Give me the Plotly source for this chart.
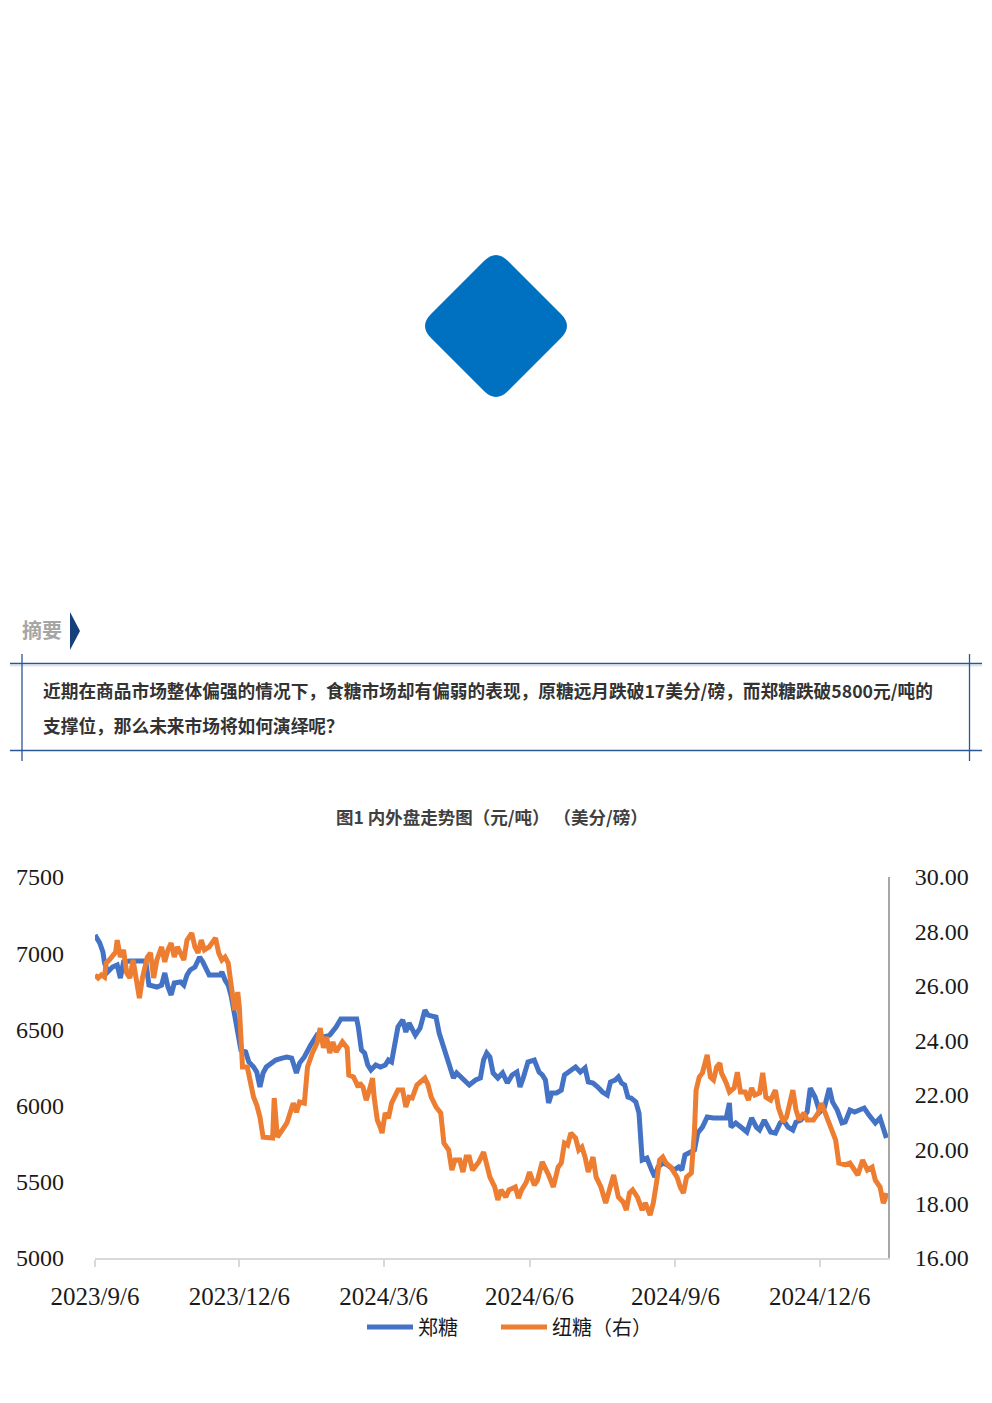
import plotly.graph_objects as go

PAGE_W, PAGE_H = 992, 1403
OFF = 8  # default page body margin
W, H = PAGE_W - OFF, PAGE_H - OFF

# ---------------- data ----------------
zheng_dates = [
    "2023-09-06","2023-09-09","2023-09-11","2023-09-12","2023-09-14","2023-09-17","2023-09-20","2023-09-22","2023-09-24","2023-09-28",
    "2023-10-08","2023-10-10","2023-10-15","2023-10-18","2023-10-20","2023-10-22","2023-10-24","2023-10-26","2023-10-30",
    "2023-11-01","2023-11-03","2023-11-05","2023-11-08","2023-11-11","2023-11-13","2023-11-15","2023-11-17","2023-11-24","2023-11-25","2023-11-27","2023-11-29",
    "2023-12-01","2023-12-03","2023-12-05","2023-12-07","2023-12-10","2023-12-12","2023-12-15","2023-12-17","2023-12-19","2023-12-21","2023-12-23","2023-12-26","2023-12-29",
    "2024-01-02","2024-01-05","2024-01-08","2024-01-11","2024-01-13","2024-01-16","2024-01-20","2024-01-24","2024-01-28",
    "2024-02-01","2024-02-05","2024-02-08","2024-02-18","2024-02-19","2024-02-21","2024-02-23","2024-02-25","2024-02-27",
    "2024-03-01","2024-03-04","2024-03-07","2024-03-09","2024-03-11","2024-03-13","2024-03-15","2024-03-18","2024-03-20","2024-03-22","2024-03-26","2024-03-29",
    "2024-04-01","2024-04-03","2024-04-08","2024-04-10","2024-04-12","2024-04-14","2024-04-16","2024-04-19","2024-04-21","2024-04-24","2024-04-27","2024-04-29",
    "2024-05-03","2024-05-06","2024-05-08","2024-05-10","2024-05-12","2024-05-14","2024-05-17","2024-05-20","2024-05-23","2024-05-26","2024-05-29","2024-05-31",
    "2024-06-02","2024-06-05","2024-06-09","2024-06-12","2024-06-14","2024-06-16","2024-06-18","2024-06-20","2024-06-23","2024-06-26","2024-06-28",
    "2024-07-01","2024-07-05","2024-07-08","2024-07-11","2024-07-13","2024-07-16","2024-07-19","2024-07-22","2024-07-25","2024-07-27","2024-07-30",
    "2024-08-01","2024-08-03","2024-08-05","2024-08-07","2024-08-09","2024-08-12","2024-08-14","2024-08-16","2024-08-19","2024-08-22","2024-08-24","2024-08-26","2024-08-29",
    "2024-09-01","2024-09-05","2024-09-08","2024-09-10","2024-09-12","2024-09-15","2024-09-18","2024-09-20","2024-09-23","2024-09-26","2024-09-30",
    "2024-10-08","2024-10-10","2024-10-11","2024-10-14","2024-10-18","2024-10-21","2024-10-24","2024-10-27","2024-10-29",
    "2024-11-01","2024-11-05","2024-11-08","2024-11-11","2024-11-13","2024-11-16","2024-11-19","2024-11-21","2024-11-24","2024-11-28","2024-11-30",
    "2024-12-03","2024-12-06","2024-12-09","2024-12-12","2024-12-14","2024-12-17","2024-12-20","2024-12-22","2024-12-25","2024-12-28","2024-12-31",
    "2025-01-03","2025-01-06","2025-01-10","2025-01-13","2025-01-15","2025-01-17",
]
zheng_values = [
    7119,7067,7008,6936,6877,6909,6923,6837,6942,6949,
    6949,6791,6778,6791,6870,6778,6726,6804,6811,
    6791,6857,6890,6909,6975,6942,6903,6857,6857,6877,6824,6791,
    6713,6581,6496,6365,6352,6286,6253,6220,6122,6214,6253,6279,6299,
    6312,6319,6312,6214,6279,6319,6398,6463,6450,
    6463,6516,6568,6568,6516,6365,6345,6266,6234,
    6266,6253,6266,6299,6286,6411,6516,6562,6483,6542,6463,6509,
    6627,6594,6581,6476,6411,6332,6279,6181,6214,6181,6148,6135,
    6168,6181,6299,6345,6319,6214,6181,6214,6148,6201,6220,6122,
    6181,6286,6299,6220,6201,6168,6017,6083,6083,6102,6201,
    6220,6253,6220,6247,6155,6148,6122,6089,6069,6155,6168,
    6188,6148,6135,6056,6050,6024,5951,5643,5656,5577,5531,5597,5623,
    5610,5577,5597,5577,5676,5689,5709,5820,5859,5925,5919,
    5919,6017,5859,5886,5853,5827,5919,5859,5840,
    5905,5827,5820,5886,5905,5859,5840,5892,5905,5958,6115,
    6056,5958,5991,6115,6024,5971,5886,5892,5971,5958,5971,
    5984,5938,5886,5919,5859,5787,
]

ice_dates = [
    "2023-09-06","2023-09-08","2023-09-10","2023-09-12","2023-09-13","2023-09-15","2023-09-19","2023-09-20","2023-09-22","2023-09-24","2023-09-26","2023-09-28","2023-09-30",
    "2023-10-02","2023-10-04","2023-10-06","2023-10-09","2023-10-11","2023-10-13","2023-10-15","2023-10-18","2023-10-20","2023-10-22","2023-10-24","2023-10-26","2023-10-28",
    "2023-11-01","2023-11-03","2023-11-06","2023-11-08","2023-11-10","2023-11-12","2023-11-14","2023-11-17","2023-11-21","2023-11-23","2023-11-25","2023-11-27","2023-11-29",
    "2023-12-01","2023-12-02","2023-12-03","2023-12-05","2023-12-06","2023-12-07","2023-12-08","2023-12-11","2023-12-13","2023-12-15","2023-12-17","2023-12-19","2023-12-21","2023-12-24","2023-12-27","2023-12-28","2023-12-30",
    "2024-01-02","2024-01-05","2024-01-07","2024-01-09","2024-01-11","2024-01-13","2024-01-16","2024-01-18","2024-01-21","2024-01-24","2024-01-26","2024-01-28","2024-01-30",
    "2024-02-01","2024-02-03","2024-02-05","2024-02-09","2024-02-12","2024-02-13","2024-02-16","2024-02-19","2024-02-20","2024-02-22","2024-02-24","2024-02-26","2024-02-28","2024-02-29",
    "2024-03-02","2024-03-04","2024-03-05","2024-03-07","2024-03-09","2024-03-11","2024-03-13","2024-03-15","2024-03-18","2024-03-20","2024-03-22","2024-03-24","2024-03-27","2024-03-29",
    "2024-04-01","2024-04-03","2024-04-05","2024-04-08","2024-04-11","2024-04-13","2024-04-16","2024-04-18","2024-04-20","2024-04-23","2024-04-25","2024-04-27","2024-04-29",
    "2024-05-01","2024-05-05","2024-05-08","2024-05-10","2024-05-12","2024-05-15","2024-05-17","2024-05-19","2024-05-22","2024-05-24","2024-05-28","2024-05-30",
    "2024-06-01","2024-06-04","2024-06-06","2024-06-09","2024-06-11","2024-06-14","2024-06-16","2024-06-18","2024-06-21","2024-06-24","2024-06-26","2024-06-28","2024-06-30",
    "2024-07-02","2024-07-05","2024-07-07","2024-07-09","2024-07-11","2024-07-13","2024-07-16","2024-07-18","2024-07-21","2024-07-24","2024-07-27","2024-07-29",
    "2024-08-01","2024-08-04","2024-08-06","2024-08-08","2024-08-10","2024-08-13","2024-08-16","2024-08-18","2024-08-21","2024-08-23","2024-08-25","2024-08-27","2024-08-29","2024-08-31",
    "2024-09-03","2024-09-07","2024-09-09","2024-09-11","2024-09-13","2024-09-16","2024-09-18","2024-09-19","2024-09-21","2024-09-23","2024-09-26","2024-09-28","2024-09-30",
    "2024-10-02","2024-10-04","2024-10-05","2024-10-08","2024-10-10","2024-10-13","2024-10-15","2024-10-17","2024-10-20","2024-10-22","2024-10-24","2024-10-26","2024-10-29","2024-10-31",
    "2024-11-02","2024-11-05","2024-11-08","2024-11-10","2024-11-13","2024-11-15","2024-11-19","2024-11-21","2024-11-23","2024-11-26","2024-11-28",
    "2024-12-02","2024-12-05","2024-12-07","2024-12-09","2024-12-11","2024-12-13","2024-12-16","2024-12-18","2024-12-22","2024-12-25","2024-12-28","2024-12-30",
    "2025-01-02","2025-01-05","2025-01-08","2025-01-10","2025-01-13","2025-01-15","2025-01-16","2025-01-17",
]
ice_values = [
    26.40,26.29,26.40,26.32,26.84,26.95,27.24,27.68,27.06,27.32,26.47,26.29,26.95,
    26.10,25.55,26.32,27.06,27.21,26.29,26.95,27.43,26.88,27.32,27.57,27.06,27.43,
    26.95,27.68,27.94,27.43,27.21,27.68,27.32,27.43,27.76,27.21,26.95,27.06,26.84,
    25.96,25.48,25.11,25.77,25.22,24.12,23.02,23.02,22.43,21.91,21.62,21.18,20.44,20.44,20.41,21.88,20.44,
    20.70,20.96,21.33,21.69,21.36,21.73,21.69,23.02,23.53,23.90,24.45,23.72,24.12,
    23.53,23.94,23.57,23.94,23.72,22.72,22.65,22.28,22.43,22.28,21.80,22.17,22.61,21.91,
    21.07,20.78,20.59,21.33,21.14,21.69,21.91,22.17,22.17,21.55,21.91,21.88,22.36,22.47,
    22.61,22.36,21.91,21.55,21.33,20.22,19.97,19.23,19.60,19.60,19.16,19.71,19.71,
    19.23,19.53,19.89,19.49,18.97,18.61,18.13,18.50,18.24,18.50,18.61,18.20,
    18.50,18.79,19.16,18.68,18.86,19.53,19.23,19.05,18.61,19.34,19.49,20.22,20.15,
    20.59,20.41,19.97,20.08,19.71,19.16,19.71,18.97,18.61,18.02,18.61,19.05,
    18.24,18.06,17.76,18.39,18.50,18.24,17.76,18.02,17.58,18.02,18.75,19.60,19.71,19.49,
    19.34,18.97,18.61,18.39,18.97,19.12,20.70,22.17,22.65,22.80,23.46,22.65,22.54,
    23.02,23.16,22.80,22.43,22.10,22.25,22.83,22.10,22.10,21.80,22.25,21.99,22.06,22.80,
    21.91,21.80,22.17,21.51,21.00,21.18,22.17,21.44,21.07,21.33,21.07,
    21.07,21.33,21.69,21.36,21.07,20.70,20.33,19.49,19.42,19.49,19.23,19.05,
    19.60,19.23,19.34,18.86,18.61,18.02,18.13,18.39,
]

x_tick_dates = ["2023-09-06", "2023-12-06", "2024-03-06", "2024-06-06", "2024-09-06", "2024-12-06"]
x_tick_labels = ["2023/9/6", "2023/12/6", "2024/3/6", "2024/6/6", "2024/9/6", "2024/12/6"]
left_ticks = [5000, 5500, 6000, 6500, 7000, 7500]
right_ticks = [16, 18, 20, 22, 24, 26, 28, 30]

series_names = ["郑糖", "纽糖（右）"]
chart_title = "图1 内外盘走势图（元/吨） （美分/磅）"
summary_line1 = "近期在商品市场整体偏强的情况下，食糖市场却有偏弱的表现，原糖远月跌破17美分/磅，而郑糖跌破5800元/吨的"
summary_line2 = "支撑位，那么未来市场将如何演绎呢？"


# ---------------- helpers (page pixel -> paper) ----------------
def fx(x):
    return (x - OFF) / W


def fy(y):
    return 1 - (y - OFF) / H


def path(segments, closed=True):
    parts = []
    for cmd, pts in segments:
        parts.append(cmd + " " + " ".join(f"{fx(a):.5f},{fy(b):.5f}" for a, b in pts))
    return " ".join(parts) + (" Z" if closed else "")


CJK = "Noto Sans CJK SC"
SERIF = "Liberation Serif"

fig = go.Figure()
fig.add_trace(go.Scatter(
    x=zheng_dates, y=zheng_values, mode="lines", name=series_names[0],
    line=dict(color="#4472C4", width=5), xaxis="x", yaxis="y", legend="legend",
))
fig.add_trace(go.Scatter(
    x=ice_dates, y=ice_values, mode="lines", name=series_names[1],
    line=dict(color="#ED7D31", width=5), xaxis="x", yaxis="y2", legend="legend2",
))

plot_left, plot_right, plot_top, plot_bottom = 95, 888, 877, 1258
tickfont = dict(family=SERIF, size=24, color="#1a1a1a")
legend_style = dict(
    orientation="h", xanchor="left", y=fy(1327), yanchor="middle",
    font=dict(family=CJK, size=20, color="#1a1a1a"),
    bgcolor="rgba(0,0,0,0)", borderwidth=0, itemwidth=46,
)

fig.update_layout(
    width=W, height=H, autosize=False,
    margin=dict(l=0, r=0, t=0, b=0, pad=0),
    paper_bgcolor="white", plot_bgcolor="white",
    template="none",
    showlegend=True,
    legend=dict(x=fx(362), **legend_style),
    legend2=dict(x=fx(496), **legend_style),
    xaxis=dict(
        type="date", domain=[fx(plot_left), fx(plot_right)],
        range=["2023-09-06", "2025-01-18"],
        tickmode="array", tickvals=x_tick_dates, ticktext=x_tick_labels,
        ticks="outside", ticklen=7, tickwidth=1.5, tickcolor="#d9d9d9",
        showline=True, linecolor="#d9d9d9", linewidth=1.5,
        showgrid=False, zeroline=False,
        tickfont=dict(family=SERIF, size=25, color="#1a1a1a"),
        ticklabelstandoff=8, anchor="y",
    ),
    yaxis=dict(
        domain=[fy(plot_bottom), fy(plot_top)], range=[5000, 7500],
        tickmode="array", tickvals=left_ticks, ticktext=[str(v) for v in left_ticks],
        ticks="", showline=False, showgrid=False, zeroline=False,
        tickfont=tickfont, ticklabelstandoff=30, anchor="x",
    ),
    yaxis2=dict(
        overlaying="y", side="right", range=[16, 30], anchor="x",
        tickmode="array", tickvals=right_ticks, ticktext=[f"{v:.2f}" for v in right_ticks],
        ticks="", showline=True, linecolor="#a6a6a6", linewidth=2,
        showgrid=False, zeroline=False,
        tickfont=tickfont, ticklabelstandoff=20,
    ),
)

shapes = []
# rounded blue diamond
cx, cy, hw, c = 496, 326, 77, 12
T, R, B, L = (cx, cy - hw), (cx + hw, cy), (cx, cy + hw), (cx - hw, cy)
diamond = path([
    ("M", [(T[0] + c, T[1] + c)]),
    ("L", [(R[0] - c, R[1] - c)]),
    ("Q", [R, (R[0] - c, R[1] + c)]),
    ("L", [(B[0] + c, B[1] - c)]),
    ("Q", [B, (B[0] - c, B[1] - c)]),
    ("L", [(L[0] + c, L[1] + c)]),
    ("Q", [L, (L[0] + c, L[1] - c)]),
    ("L", [(T[0] - c, T[1] + c)]),
    ("Q", [T, (T[0] + c, T[1] + c)]),
])
shapes.append(dict(type="path", xref="paper", yref="paper", path=diamond,
                   fillcolor="#0070C0", line=dict(width=0), layer="above"))
# chevron next to 摘要
shapes.append(dict(type="path", xref="paper", yref="paper",
                   path=path([("M", [(70, 612)]), ("L", [(80, 631)]), ("L", [(70, 650)])]),
                   fillcolor="#173f7c", line=dict(width=0), layer="above"))
# summary box lines
navy = "#2a5694"
for yy in (663.5, 750.5):
    shapes.append(dict(type="line", xref="paper", yref="paper",
                       x0=fx(10), x1=fx(982), y0=fy(yy), y1=fy(yy),
                       line=dict(color=navy, width=1.6)))
shapes.append(dict(type="line", xref="paper", yref="paper",
                   x0=fx(10), x1=fx(982), y0=fy(665.8), y1=fy(665.8),
                   line=dict(color="#c5d7ec", width=1)))
for xx in (22, 969.5):
    shapes.append(dict(type="line", xref="paper", yref="paper",
                       x0=fx(xx), x1=fx(xx), y0=fy(654), y1=fy(761),
                       line=dict(color=navy, width=1.3)))
fig.update_layout(shapes=shapes)

annotations = [
    dict(text="<b>摘要</b>", x=fx(20), y=fy(629), xanchor="left", yanchor="middle",
         font=dict(family=CJK, size=20, color="#a6a6a6")),
    dict(text="<b>" + summary_line1 + "</b>", x=fx(41), y=fy(690), xanchor="left", yanchor="middle",
         font=dict(family=CJK, size=17.7, color="#333333")),
    dict(text="<b>" + summary_line2 + "</b>", x=fx(41), y=fy(725), xanchor="left", yanchor="middle",
         font=dict(family=CJK, size=17.7, color="#333333")),
    dict(text="<b>" + chart_title + "</b>", x=fx(492), y=fy(816), xanchor="center", yanchor="middle",
         font=dict(family=CJK, size=17.5, color="#404040")),
]
for a in annotations:
    a.update(xref="paper", yref="paper", showarrow=False)
fig.update_layout(annotations=annotations)

fig.write_html("out.html")
